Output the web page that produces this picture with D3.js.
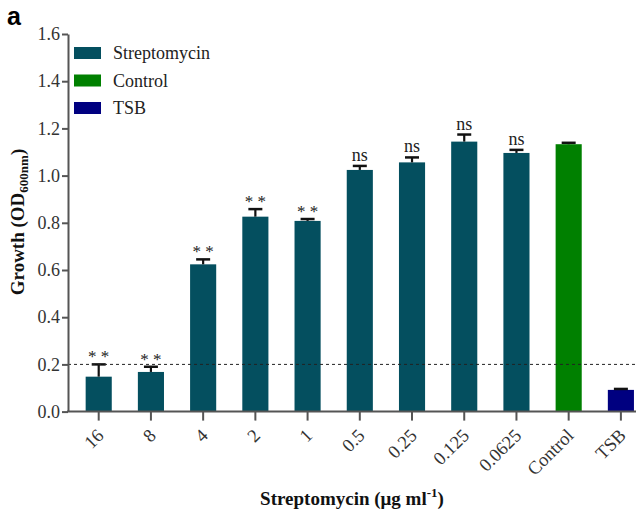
<!DOCTYPE html>
<html><head><meta charset="utf-8">
<script src="https://cdn.jsdelivr.net/npm/d3@7/dist/d3.min.js"></script>
<style>body{margin:0;background:#fff;}svg{display:block;}</style>
</head><body>
<svg id="c" width="636" height="511"></svg>
<script>
const categories = ["16","8","4","2","1","0.5","0.25","0.125","0.0625","Control","TSB"];
const groups = ["Streptomycin","Streptomycin","Streptomycin","Streptomycin","Streptomycin","Streptomycin","Streptomycin","Streptomycin","Streptomycin","Control","TSB"];
const values = [0.148,0.168,0.624,0.826,0.808,1.024,1.056,1.144,1.096,1.133,0.092];
const errors = [0.052,0.022,0.021,0.032,0.008,0.017,0.021,0.030,0.013,0.006,0.004];
const labels = ["**","**","**","**","**","ns","ns","ns","ns","",""];
const yTicks = [0,0.2,0.4,0.6,0.8,1.0,1.2,1.4,1.6];
const legendItems = ["Streptomycin","Control","TSB"];
const threshold = 0.2;

const colors = {Streptomycin:"#044f5f", Control:"#008000", TSB:"#000080"};
const svg = d3.select("#c");
const serif = "'Liberation Serif','Times New Roman',serif";

const y = d3.scaleLinear().domain([0,1.6]).range([411.6,34]);
const x = d3.scaleBand().domain(categories).range([72.6,647]).paddingInner(0.5).paddingOuter(0.25);

// bars
svg.append("g").selectAll("rect").data(categories).join("rect")
  .attr("x", d=>x(d)).attr("width", x.bandwidth())
  .attr("y", (d,i)=>y(values[i])).attr("height",(d,i)=>y(0)-y(values[i]))
  .attr("fill",(d,i)=>colors[groups[i]]);

// error bars
const eg = svg.append("g").attr("stroke","#111").attr("stroke-width",2.2);
categories.forEach((c,i)=>{
  const cx = x(c)+x.bandwidth()/2;
  eg.append("line").attr("x1",cx).attr("x2",cx).attr("y1",y(values[i])).attr("y2",y(values[i]+errors[i]));
  eg.append("line").attr("x1",cx-7).attr("x2",cx+7).attr("y1",y(values[i]+errors[i])).attr("y2",y(values[i]+errors[i])).attr("stroke-width",2.5);
});

// significance labels
svg.append("g").selectAll("text").data(categories).join("text")
  .attr("x", d=>x(d)+x.bandwidth()/2)
  .attr("y",(d,i)=>y(values[i]+errors[i]) - (labels[i]==="ns"?5:2))
  .attr("text-anchor","middle")
  .attr("font-family",serif)
  .attr("font-size",(d,i)=>labels[i]==="ns"?18:17)
  .attr("fill","#222")
  .text((d,i)=>labels[i]==="**"?"* *":labels[i]);

// dashed threshold
svg.append("line").attr("x1",68).attr("x2",636).attr("y1",y(threshold)).attr("y2",y(threshold))
  .attr("stroke","#222").attr("stroke-width",1).attr("stroke-dasharray","3,3");

// y axis
const yAxis = svg.append("g").attr("transform","translate(68,0)")
  .call(d3.axisLeft(y).tickValues(yTicks).tickFormat(d3.format(".1f")).tickSize(6).tickSizeOuter(0));
yAxis.select(".domain").attr("stroke","#555").attr("stroke-width",2);
yAxis.selectAll(".tick line").attr("stroke","#555").attr("stroke-width",2);
yAxis.selectAll(".tick text").attr("font-family",serif).attr("font-size",18).attr("fill","#333").attr("x",-8);

// x axis
const xAxis = svg.append("g").attr("transform","translate(0,"+y(0)+")")
  .call(d3.axisBottom(x).tickSize(9).tickSizeOuter(0));
xAxis.select(".domain").remove();
xAxis.append("line").attr("x1",67).attr("x2",636).attr("y1",0).attr("y2",0).attr("stroke","#555").attr("stroke-width",2);
xAxis.selectAll(".tick line").attr("stroke","#555").attr("stroke-width",2);
xAxis.selectAll(".tick text").attr("font-family",serif).attr("font-size",18.5).attr("fill","#333")
  .attr("text-anchor","end").attr("dy",0).attr("y",0)
  .attr("transform","translate(6,25) rotate(-45)");

// axis titles
const yt = svg.append("text").attr("transform","translate(24,222) rotate(-90)")
  .attr("text-anchor","middle").attr("font-family",serif).attr("font-weight","bold").attr("font-size",19).attr("fill","#111");
yt.append("tspan").text("Growth (OD");
yt.append("tspan").attr("font-size",13).attr("dy",4).text("600nm");
yt.append("tspan").attr("dy",-4).text(")");

const xt = svg.append("text").attr("x",352).attr("y",505)
  .attr("text-anchor","middle").attr("font-family",serif).attr("font-weight","bold").attr("font-size",19).attr("fill","#111");
xt.append("tspan").text("Streptomycin (μg ml");
xt.append("tspan").attr("font-size",13).attr("dy",-8).text("-1");
xt.append("tspan").attr("dy",8).text(")");

// panel letter
svg.append("text").attr("x",7).attr("y",25).attr("font-family","'Liberation Sans',Arial,sans-serif")
  .attr("font-weight","bold").attr("font-size",25).attr("fill","#000").text("a");

// legend
const lg = svg.append("g").selectAll("g").data(legendItems).join("g")
  .attr("transform",(d,i)=>"translate(74,"+(47+i*27.5)+")");
lg.append("rect").attr("width",27).attr("height",12).attr("fill",d=>colors[d]);
lg.append("text").attr("x",39).attr("y",12).attr("font-family",serif).attr("font-size",18).attr("fill","#222").text(d=>d);
</script>
</body></html>
